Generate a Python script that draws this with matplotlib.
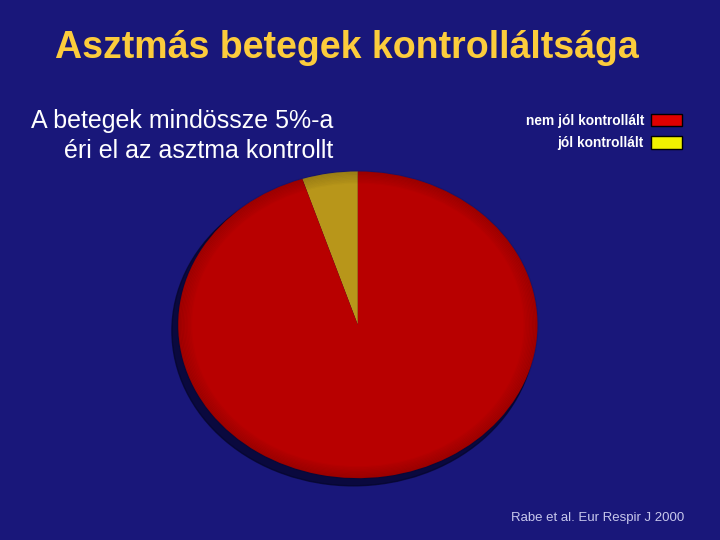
import matplotlib.pyplot as plt
from matplotlib.patches import Patch, Ellipse

# data
labels = ['jól kontrollált', 'nem jól kontrollált']
values = [5, 95]
pie_colors = ['#b8961a', '#b80000']
legend_colors = ['#f0f000', '#e00000']

fig = plt.figure(figsize=(7.2, 5.4), dpi=100)
fig.patch.set_facecolor('#19177a')

# title and side text
fig.text(0.482, 0.912, 'Asztmás betegek kontrolláltsága', ha='center', va='center',
         fontsize=27, fontweight='bold', color='#fccc3c', family='Liberation Sans')
fig.text(0.463, 0.748, 'A betegek mindössze 5%-a\néri el az asztma kontrollt',
         ha='right', va='center', multialignment='right', fontsize=18,
         color='white', family='Liberation Sans', linespacing=1.3)
fig.text(0.95, 0.04, 'Rabe et al. Eur Respir J 2000', ha='right', va='center',
         fontsize=9.5, color='#c8c8ec',
         family=['Liberation Sans Narrow', 'Liberation Sans'])

# pie
ax = fig.add_axes([0.240, 0.106, 0.514, 0.585])
ax.axis('off')

# shadow under the pie
ax.add_patch(Ellipse((-0.025, -0.04), 2.02, 2.02, color='#05052a', alpha=0.75,
                     zorder=0, clip_on=False))

wedges, _ = ax.pie(values, colors=pie_colors, startangle=90, counterclock=True,
                   radius=1.0, wedgeprops=dict(linewidth=0))
ax.set_aspect('auto')
ax.set_xlim(-1.03, 1.03)
ax.set_ylim(-1.03, 1.03)

# soft shading at the rim
for i in range(10):
    r = 1.0 - i * 0.008
    ax.add_patch(Ellipse((0, 0), 2 * r, 2 * r, fill=False, lw=1.5,
                         ec='black', alpha=0.10 - i * 0.009, zorder=3))

# legend
handles = [Patch(facecolor=legend_colors[1], edgecolor='black', label=labels[1]),
           Patch(facecolor=legend_colors[0], edgecolor='black', label=labels[0])]
leg = fig.legend(handles=handles, loc='upper right', bbox_to_anchor=(0.965, 0.812),
                 frameon=False, markerfirst=False, handlelength=2.3, handleheight=1.0,
                 handletextpad=0.5, labelspacing=0.6,
                 prop={'family': 'Liberation Sans', 'weight': 'bold', 'size': 9.9})
for t in leg.get_texts():
    t.set_color('white')

plt.savefig('out.png', dpi=100, facecolor=fig.get_facecolor())
